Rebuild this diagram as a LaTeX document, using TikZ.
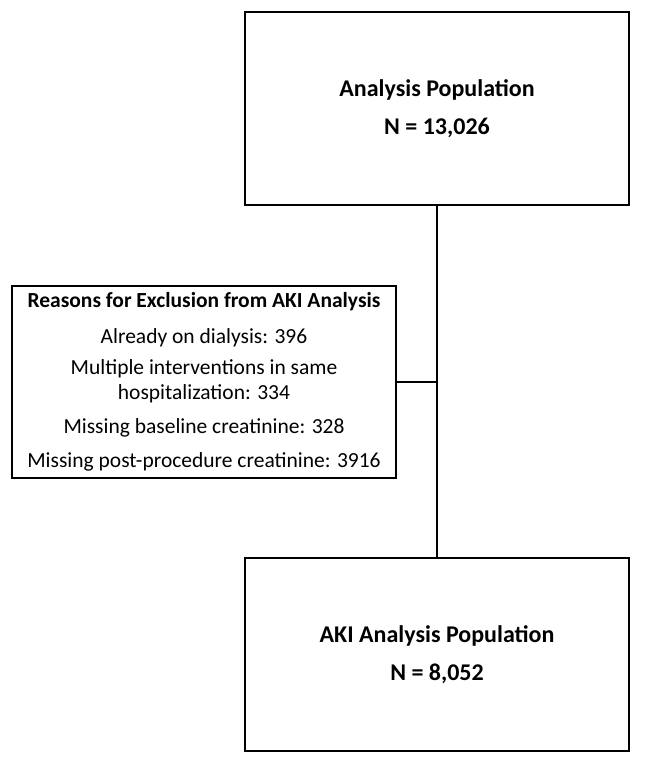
\documentclass[tikz,border=0pt]{standalone}
\usepackage{fontspec}
\setmainfont{Carlito}
\begin{document}
\begin{tikzpicture}[x=1pt,y=-1pt,
  box/.style={draw=black,line width=1.4pt,minimum width=384pt,minimum height=193pt,inner sep=0pt,align=center},
  sbox/.style={draw=black,line width=1.4pt,minimum width=384pt,minimum height=192pt,inner sep=0pt,align=center},
  conn/.style={draw=black,line width=1.4pt}]
\useasboundingbox (0,0) rectangle (647,770);
\node[box,font=\fontsize{24}{38}\selectfont\bfseries] (top) at (437,108.5) {Analysis Population\\N = 13,026};
\node[box,font=\fontsize{24}{38}\selectfont\bfseries] (bot) at (437,654.5) {AKI Analysis Population\\N = 8,052};
\node[sbox,font=\fontsize{21.5}{25}\selectfont] (ex) at (204,382) {\textbf{Reasons for Exclusion from AKI Analysis}\\[11pt]
Already on dialysis: 396\\[6pt]
Multiple interventions in same\\hospitalization: 334\\[9pt]
Missing baseline creatinine: 328\\[9pt]
Missing post-procedure creatinine: 3916};
\coordinate (j) at (top.south |- ex.east);
\draw[conn] (top.south) -- (bot.north);
\draw[conn] (ex.east) -- (j);
\end{tikzpicture}
\end{document}
